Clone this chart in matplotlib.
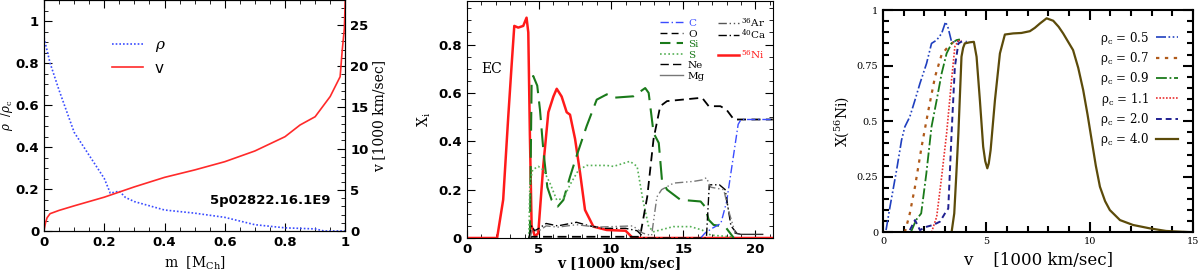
import matplotlib
matplotlib.use("Agg")
import matplotlib.pyplot as plt
from matplotlib.ticker import MultipleLocator, FuncFormatter
from matplotlib.lines import Line2D
from matplotlib.font_manager import FontProperties

plt.rcParams["mathtext.fontset"] = "dejavuserif"

# ---- panel 1: density and velocity vs mass ----
m_rho = [0.0, 0.02, 0.05, 0.08, 0.1, 0.15, 0.2, 0.22, 0.25, 0.27, 0.3, 0.4, 0.5, 0.6, 0.7, 0.8, 0.9, 0.93, 1.0]
rho = [0.92, 0.8, 0.67, 0.55, 0.47, 0.36, 0.25, 0.18, 0.19, 0.16, 0.14, 0.1, 0.085, 0.065, 0.03, 0.015, 0.01, 0.0, 0.0]
m_v = [0.0, 0.005, 0.01, 0.02, 0.05, 0.1, 0.2, 0.3, 0.4, 0.5, 0.6, 0.7, 0.8, 0.85, 0.9, 0.95, 0.983, 0.99, 0.997,
       1.0]
vel = [0.12, 1.0, 1.6, 2.1, 2.5, 3.05, 4.1, 5.35, 6.5, 7.4, 8.4, 9.7, 11.43, 12.85, 13.85, 16.3, 18.7, 21.9, 24.5,
       28.0]

# ---- panel 2: abundances X_i vs velocity ----
v_ni = [0, 2.1, 2.52, 2.87, 3.1, 3.29, 3.56, 3.91, 4.14, 4.26, 4.37, 4.49, 4.72, 4.95, 5.3, 5.65, 6.0, 6.23,
        6.57, 6.92, 7.15, 7.5, 7.85, 8.19, 8.77, 9.7, 11.0, 11.5, 21.2]
x_ni = [0, 0, 0.158, 0.5, 0.71, 0.877, 0.87, 0.877, 0.911, 0.85, 0.43, 0.05, 0.006, 0.02, 0.3, 0.52, 0.585,
        0.617, 0.585, 0.52, 0.51, 0.41, 0.268, 0.116, 0.047, 0.033, 0.03, 0.0, 0.0]
v_si = [4.3, 4.37, 4.49, 4.6, 4.88, 5.07, 5.3, 5.58, 5.88, 6.3, 6.69, 7.15, 7.6, 8.3, 9.0, 9.7, 10.16, 11.55,
        12.36, 12.6, 12.94, 13.3, 13.52, 13.87, 14.8, 16.2, 16.5, 16.76, 17.1, 17.9, 18.5]
x_si = [0, 0.0, 0.64, 0.67, 0.63, 0.53, 0.365, 0.21, 0.157, 0.13, 0.157, 0.253, 0.338, 0.462, 0.572, 0.594,
        0.58, 0.586, 0.62, 0.6, 0.434, 0.393, 0.24, 0.2, 0.158, 0.151, 0.13, 0.075, 0.054, 0.047, 0.0]
v_s = [4.3, 4.37, 4.56, 4.95, 5.3, 5.76, 6.23, 6.7, 7.15, 7.73, 8.3, 9.7, 10.16, 11.3, 11.8, 12.2, 12.6, 12.94,
       13.4, 14.3, 15.5, 16.3, 16.9, 18.3]
x_s = [0, 0.227, 0.282, 0.296, 0.282, 0.227, 0.157, 0.164, 0.22, 0.28, 0.3, 0.3, 0.296, 0.317, 0.296, 0.157,
       0.047, 0.026, 0.033, 0.047, 0.047, 0.033, 0.012, 0.005]
v_o = [4.3, 4.5, 5.0, 6.0, 8.0, 11.5, 12.0, 12.5, 12.94, 13.4, 13.87, 16.3, 16.76, 17.57, 18.0, 18.5, 19.2, 21.2]
x_o = [0, 0.005, 0.005, 0.005, 0.005, 0.005, 0.005, 0.17, 0.41, 0.545, 0.566, 0.58, 0.545, 0.545, 0.53, 0.49,
       0.49, 0.49]
v_c = [16.2, 16.5, 17.0, 17.6, 18.0, 18.5, 18.8, 19.0, 21.2]
x_c = [0, 0.02, 0.04, 0.06, 0.15, 0.35, 0.47, 0.49, 0.49]
v_ca = [4.3, 4.5, 4.7, 5.0, 5.5, 6.3, 7.6, 8.5, 9.5, 11.0, 11.8, 12.3, 16.6, 16.8, 17.5, 17.9, 18.3, 18.7]
x_ca = [0, 0.05, 0.03, 0.04, 0.06, 0.05, 0.065, 0.05, 0.04, 0.04, 0.03, 0.0, 0.0, 0.22, 0.22, 0.2, 0.05, 0.02]
v_ar = [4.4, 4.5, 5.0, 5.5, 6.3, 7.6, 9.0, 10.5, 11.5, 12.2, 12.8, 13.17, 13.5, 14.33, 15.7, 16.3, 16.6,
        16.9, 17.8, 18.2, 18.6, 19.0]
x_ar = [0, 0.03, 0.03, 0.05, 0.045, 0.055, 0.045, 0.048, 0.05, 0.02, 0.01, 0.17, 0.2, 0.227, 0.234, 0.24,
        0.249, 0.21, 0.2, 0.1, 0.02, 0.015]
v_mg = [18.6, 19.0, 20.5]
x_mg = [0.02, 0.015, 0.015]

# ---- panel 3: X(56Ni) for several central densities ----
rho_c_labels = ["0.5", "0.7", "0.9", "1.1", "2.0", "4.0"]
v_05 = [0.15, 0.34, 0.66, 0.9, 1.06, 1.3, 1.55, 1.79, 2.11, 2.35, 2.6, 2.84, 3.03, 3.16, 3.32, 3.56, 3.72]
x_05 = [0.01, 0.115, 0.28, 0.415, 0.475, 0.52, 0.595, 0.67, 0.76, 0.85, 0.865, 0.895, 0.947, 0.918, 0.857,
        0.857, 0.865]
v_07 = [1.06, 1.3, 1.55, 1.87, 2.2, 2.52, 2.84, 3.16, 3.48, 3.72]
x_07 = [0, 0.085, 0.205, 0.385, 0.55, 0.7, 0.8, 0.836, 0.862, 0.865]
v_09 = [1.35, 1.6, 1.85, 2.1, 2.35, 2.6, 2.84, 3.08, 3.32, 3.56, 3.72]
x_09 = [0, 0.055, 0.085, 0.265, 0.475, 0.595, 0.715, 0.805, 0.85, 0.865, 0.868]
v_11 = [2.35, 2.6, 2.84, 3.08, 3.32, 3.48, 3.65, 3.8]
x_11 = [0, 0.07, 0.25, 0.445, 0.685, 0.836, 0.862, 0.862]
v_20 = [1.3, 1.55, 1.79, 2.11, 2.43, 2.76, 3.0, 3.16, 3.32, 3.48, 3.65, 3.88, 4.05]
x_20 = [0.01, 0.055, 0.01, 0.025, 0.033, 0.048, 0.085, 0.107, 0.445, 0.745, 0.85, 0.862, 0.857]
v_40 = [3.32, 3.45, 3.55, 3.65, 3.8, 3.88, 3.96, 4.2, 4.4, 4.53, 4.69, 4.85, 4.95, 5.05, 5.12, 5.21, 5.42,
        5.66, 5.9, 6.3, 6.7, 7.11, 7.35, 7.6, 7.92, 8.24, 8.5, 8.72, 9.2, 9.45, 9.69, 9.9, 10.1, 10.3, 10.5,
        10.75, 10.98, 11.47, 12.1, 12.9, 13.7, 15.0]
x_40 = [0, 0.085, 0.26, 0.445, 0.79, 0.83, 0.85, 0.855, 0.857, 0.79, 0.595, 0.385, 0.32, 0.288, 0.31, 0.37,
        0.595, 0.805, 0.89, 0.895, 0.897, 0.905, 0.92, 0.94, 0.963, 0.952, 0.925, 0.895, 0.82, 0.74, 0.64,
        0.53, 0.415, 0.3, 0.205, 0.14, 0.1, 0.055, 0.033, 0.018, 0.006, 0.0]

fig = plt.figure(figsize=(12, 2.71), dpi=100)

tick_font = {"family": "DejaVu Sans", "weight": "bold", "size": 9.5}
label_font = {"family": "DejaVu Serif", "size": 10}
num_fmt = FuncFormatter(lambda x, p: f"{x:g}")


def style_ticks(ax, right=True):
    ax.tick_params(which="both", direction="in", top=True, right=right)
    ax.tick_params(which="major", length=6)
    ax.tick_params(which="minor", length=3)
    for lab in ax.get_xticklabels() + ax.get_yticklabels():
        lab.set_fontproperties(FontProperties(**tick_font))


# panel 1
ax1 = fig.add_axes([0.0367, 0.1476, 0.251, 0.8524])
ax1.plot(m_rho, rho, color="#3a4cff", ls=(0, (1, 1.2)), lw=1.2, label=r"$\rho$")
ax1.plot([], [], color="#ff2a2a", lw=1.2, label="v")
ax1.set_xlim(0, 1)
ax1.set_ylim(0, 1.1)
ax1.xaxis.set_major_locator(MultipleLocator(0.2))
ax1.xaxis.set_minor_locator(MultipleLocator(0.05))
ax1.yaxis.set_major_locator(MultipleLocator(0.2))
ax1.yaxis.set_minor_locator(MultipleLocator(0.05))
ax1.xaxis.set_major_formatter(num_fmt)
ax1.yaxis.set_major_formatter(num_fmt)
ax1.set_xlabel(r"m  [M$_{\rm Ch}$]", fontdict=label_font, labelpad=4)
ax1.set_ylabel(r"$\rho$  /$\rho_{\rm c}$", fontdict={"family": "DejaVu Serif", "size": 8.5})
ax1.yaxis.set_label_coords(-0.095, 0.5)
style_ticks(ax1, right=False)
ax1.text(0.55, 0.13, "5p02822.16.1E9", fontdict=tick_font)
ax1.legend(loc="upper left", bbox_to_anchor=(0.18, 0.9), frameon=False, handlelength=2.0,
           prop={"family": "DejaVu Sans", "size": 11}, labelspacing=0.45)

ax1b = ax1.twinx()
ax1b.plot(m_v, vel, color="#ff2a2a", lw=1.2)
ax1b.set_ylim(0, 28)
ax1b.yaxis.set_major_locator(MultipleLocator(5))
ax1b.yaxis.set_minor_locator(MultipleLocator(1))
ax1b.tick_params(which="both", direction="in")
ax1b.tick_params(which="major", length=6)
ax1b.tick_params(which="minor", length=3)
for lab in ax1b.get_yticklabels():
    lab.set_fontproperties(FontProperties(**tick_font))
ax1b.set_ylabel("v [1000 km/sec]", fontdict=label_font, labelpad=3)

# panel 2
ax2 = fig.add_axes([0.389, 0.1218, 0.255, 0.8745])
ax2.plot(v_ni, x_ni, color="#ff1a1a", lw=1.8)
ax2.plot(v_si, x_si, color="#1a7a1a", lw=1.5, dashes=(9, 4))
ax2.plot(v_s, x_s, color="#55b055", lw=1.2, dashes=(1, 1.5))
ax2.plot(v_o, x_o, color="black", lw=1.3, dashes=(5, 3))
ax2.plot(v_c, x_c, color="#3a4cff", lw=1.0, dashes=(6, 2, 1, 2))
ax2.plot(v_ca, x_ca, color="black", lw=1.0, dashes=(6, 2, 1, 2))
ax2.plot(v_ar, x_ar, color="#777777", lw=1.0, dashes=(6, 2, 1, 2, 1, 2))
ax2.plot(v_mg, x_mg, color="#333333", lw=1.0)
ax2.set_xlim(0, 21.2)
ax2.set_ylim(0, 0.98)
ax2.xaxis.set_major_locator(MultipleLocator(5))
ax2.xaxis.set_minor_locator(MultipleLocator(1))
ax2.yaxis.set_major_locator(MultipleLocator(0.2))
ax2.yaxis.set_minor_locator(MultipleLocator(0.05))
ax2.yaxis.set_major_formatter(num_fmt)
ax2.set_xlabel("v [1000 km/sec]", fontdict={"family": "DejaVu Serif", "size": 10, "weight": "bold"},
               labelpad=0)
ax2.set_ylabel(r"X$_{\rm i}$", fontdict=label_font)
style_ticks(ax2)
ax2.text(1.0, 0.70, "EC", fontdict={"family": "DejaVu Serif", "size": 10}, va="center")

h1 = [Line2D([], [], color="#3a4cff", lw=1.0, dashes=(6, 2, 1, 2)),
      Line2D([], [], color="black", lw=1.0, dashes=(5, 3)),
      Line2D([], [], color="#1a7a1a", lw=1.5, dashes=(5, 3)),
      Line2D([], [], color="#55b055", lw=1.2, dashes=(1, 1.5)),
      Line2D([], [], color="black", lw=1.0, dashes=(6, 3)),
      Line2D([], [], color="#777777", lw=1.0)]
l1 = ["C", "O", "Si", "S", "Ne", "Mg"]
c1 = ["#3a4cff", "black", "#1a7a1a", "#1a7a1a", "black", "black"]
leg1 = ax2.legend(h1, l1, loc="upper left", bbox_to_anchor=(0.60, 0.965), frameon=False, handlelength=2.2,
                  prop={"family": "DejaVu Serif", "size": 7.5}, labelspacing=0.12, handletextpad=0.5)
for t, c in zip(leg1.get_texts(), c1):
    t.set_color(c)
ax2.add_artist(leg1)
h2 = [Line2D([], [], color="#555555", lw=1.0, dashes=(6, 2, 1, 2, 1, 2)),
      Line2D([], [], color="black", lw=1.0, dashes=(6, 2, 1, 2)),
      Line2D([], [], color="none"),
      Line2D([], [], color="#ff1a1a", lw=1.8)]
l2 = [r"$^{36}$Ar", r"$^{40}$Ca", " ", r"$^{56}$Ni"]
c2 = ["black", "black", "black", "#ff1a1a"]
leg2 = ax2.legend(h2, l2, loc="upper left", bbox_to_anchor=(0.79, 0.975), frameon=False, handlelength=2.0,
                  prop={"family": "DejaVu Serif", "size": 7.5}, labelspacing=-0.15, handletextpad=0.2)
for t, c in zip(leg2.get_texts(), c2):
    t.set_color(c)

# panel 3
ax3 = fig.add_axes([0.7358, 0.1428, 0.2583, 0.820])
series3 = [(v_05, x_05, "#1f3fbf", (0, (6, 1.5, 1, 1.5, 1, 1.5)), 1.2),
           (v_07, x_07, "#b05a1a", (0, (1.5, 2.5)), 1.6),
           (v_09, x_09, "#1a7a1a", (0, (6, 1.5, 1, 1.5)), 1.3),
           (v_11, x_11, "#e83030", (0, (1, 1)), 1.2),
           (v_20, x_20, "#202090", (0, (3, 2)), 1.4),
           (v_40, x_40, "#5c4b0a", "-", 1.6)]
for (vv, xx, col, ls, lw), lab in zip(series3, rho_c_labels):
    ax3.plot(vv, xx, color=col, ls=ls, lw=lw, label=r"$\rm \rho_c$ = " + lab)
ax3.set_xlim(0, 15)
ax3.set_ylim(0, 1)
ax3.xaxis.set_major_locator(MultipleLocator(5))
ax3.xaxis.set_minor_locator(MultipleLocator(1))
ax3.yaxis.set_major_locator(MultipleLocator(0.25))
ax3.yaxis.set_minor_locator(MultipleLocator(0.05))
ax3.yaxis.set_major_formatter(num_fmt)
ax3.tick_params(which="both", direction="in", top=True, right=True, labelsize=7, width=1.5)
ax3.tick_params(which="major", length=7)
ax3.tick_params(which="minor", length=4)
for lab in ax3.get_xticklabels() + ax3.get_yticklabels():
    lab.set_family("DejaVu Serif")
for s in ax3.spines.values():
    s.set_linewidth(1.5)
ax3.set_xlabel("v    [1000 km/sec]", fontdict={"family": "DejaVu Serif", "size": 12})
ax3.set_ylabel(r"X($^{56}$Ni)", fontdict={"family": "DejaVu Serif", "size": 10})
ax3.legend(loc="upper right", bbox_to_anchor=(0.985, 0.96), frameon=False, markerfirst=False,
           prop={"family": "DejaVu Serif", "size": 8.5}, handlelength=1.8, labelspacing=0.28,
           handletextpad=0.6)

fig.savefig("out.png", dpi=100)
